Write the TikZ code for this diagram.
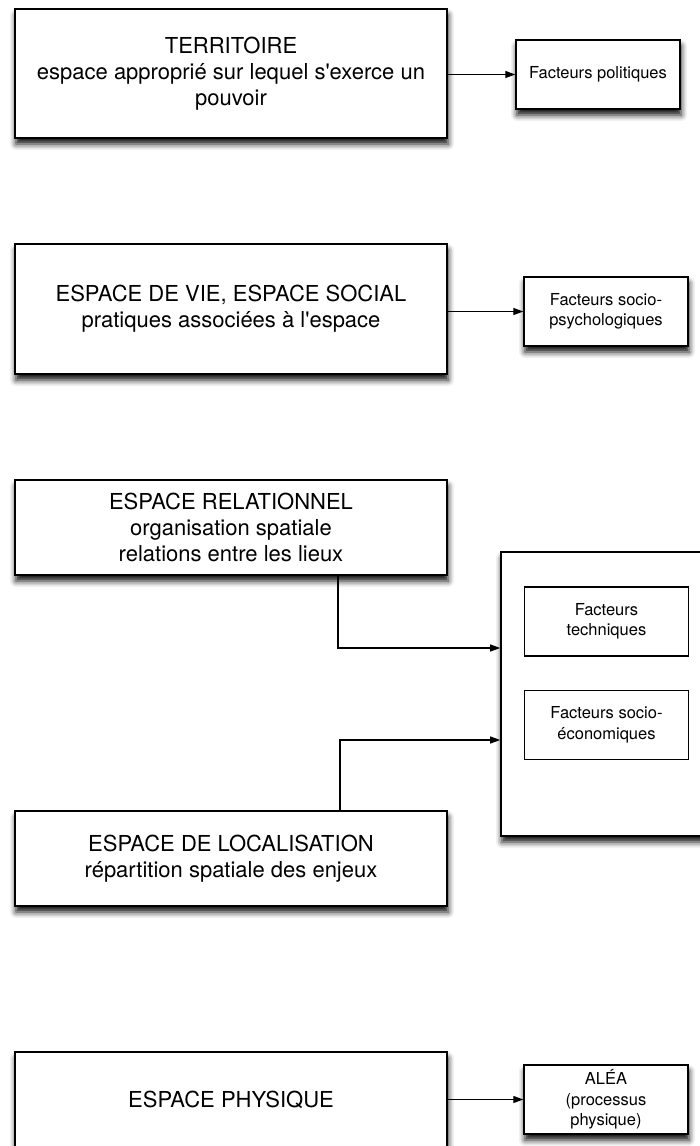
\documentclass[tikz,border=0pt]{standalone}
\usepackage{fontspec}
\setmainfont{TeX Gyre Heros}[Ligatures=TeXOff]
\usetikzlibrary{arrows.meta,positioning,shadows.blur}

\begin{document}
\begin{tikzpicture}[x=1pt,y=-1pt,
  ombre/.style={blur shadow={shadow xshift=1pt, shadow yshift=-6pt, shadow blur radius=6pt, shadow opacity=95}},
  espace/.style={draw, line width=1.6pt, fill=white, align=center, inner sep=0pt,
    minimum width=432pt, font=\fontsize{22}{26}\selectfont, ombre},
  facteur/.style={draw, line width=1.4pt, fill=white, align=center, inner sep=0pt,
    minimum width=164pt, minimum height=69pt, font=\fontsize{16.5}{20.5}\selectfont},
  fleche/.style={-{Triangle[length=10pt,width=7pt]}, line width=1.2pt}]
\useasboundingbox (0,0) rectangle (699,1146);

% les espaces (colonne de gauche)
\node[espace, minimum height=129pt] (terr) at (231,73.5) {TERRITOIRE\\espace approprié sur lequel s'exerce un\\pouvoir};
\node[espace, minimum height=130pt] (vie) at (231,309) {ESPACE DE VIE, ESPACE SOCIAL\\pratiques associées à l'espace};
\node[espace, minimum height=95pt] (rel) at (231,527.5) {ESPACE RELATIONNEL\\organisation spatiale\\relations entre les lieux};
\node[espace, minimum height=95pt] (loc) at (231,858.5) {ESPACE DE LOCALISATION\\répartition spatiale des enjeux};
\node[espace, minimum height=95pt] (phys) at (231,1099.5) {ESPACE PHYSIQUE};

% les facteurs (colonne de droite)
\node[facteur, ombre] (pol) at (598,74.5) {Facteurs politiques};
\node[facteur, ombre] (psy) at (606,311.5) {Facteurs socio-\\psychologiques};
\node[draw, line width=1.6pt, fill=white, minimum width=214pt, minimum height=284pt, ombre] (fac) at (608,694) {};
\node[facteur, line width=1.1pt] (tech) at (606.5,621.5) {Facteurs\\techniques};
\node[facteur, line width=1.1pt] (eco) at (606.5,725) {Facteurs socio-\\économiques};
\node[facteur, ombre] (alea) at (606,1099.5) {ALÉA\\(processus\\physique)};

\draw[fleche] (pol.west -| terr.east) -- (pol.west);
\draw[fleche] (psy.west -| vie.east) -- (psy.west);
\draw[fleche] ([xshift=107pt]rel.south) |- ([yshift=46pt]fac.west);
\draw[fleche] ([xshift=109pt]loc.north) |- ([yshift=-46pt]fac.west);
\draw[fleche] (alea.west -| phys.east) -- (alea.west);
\end{tikzpicture}
\end{document}
